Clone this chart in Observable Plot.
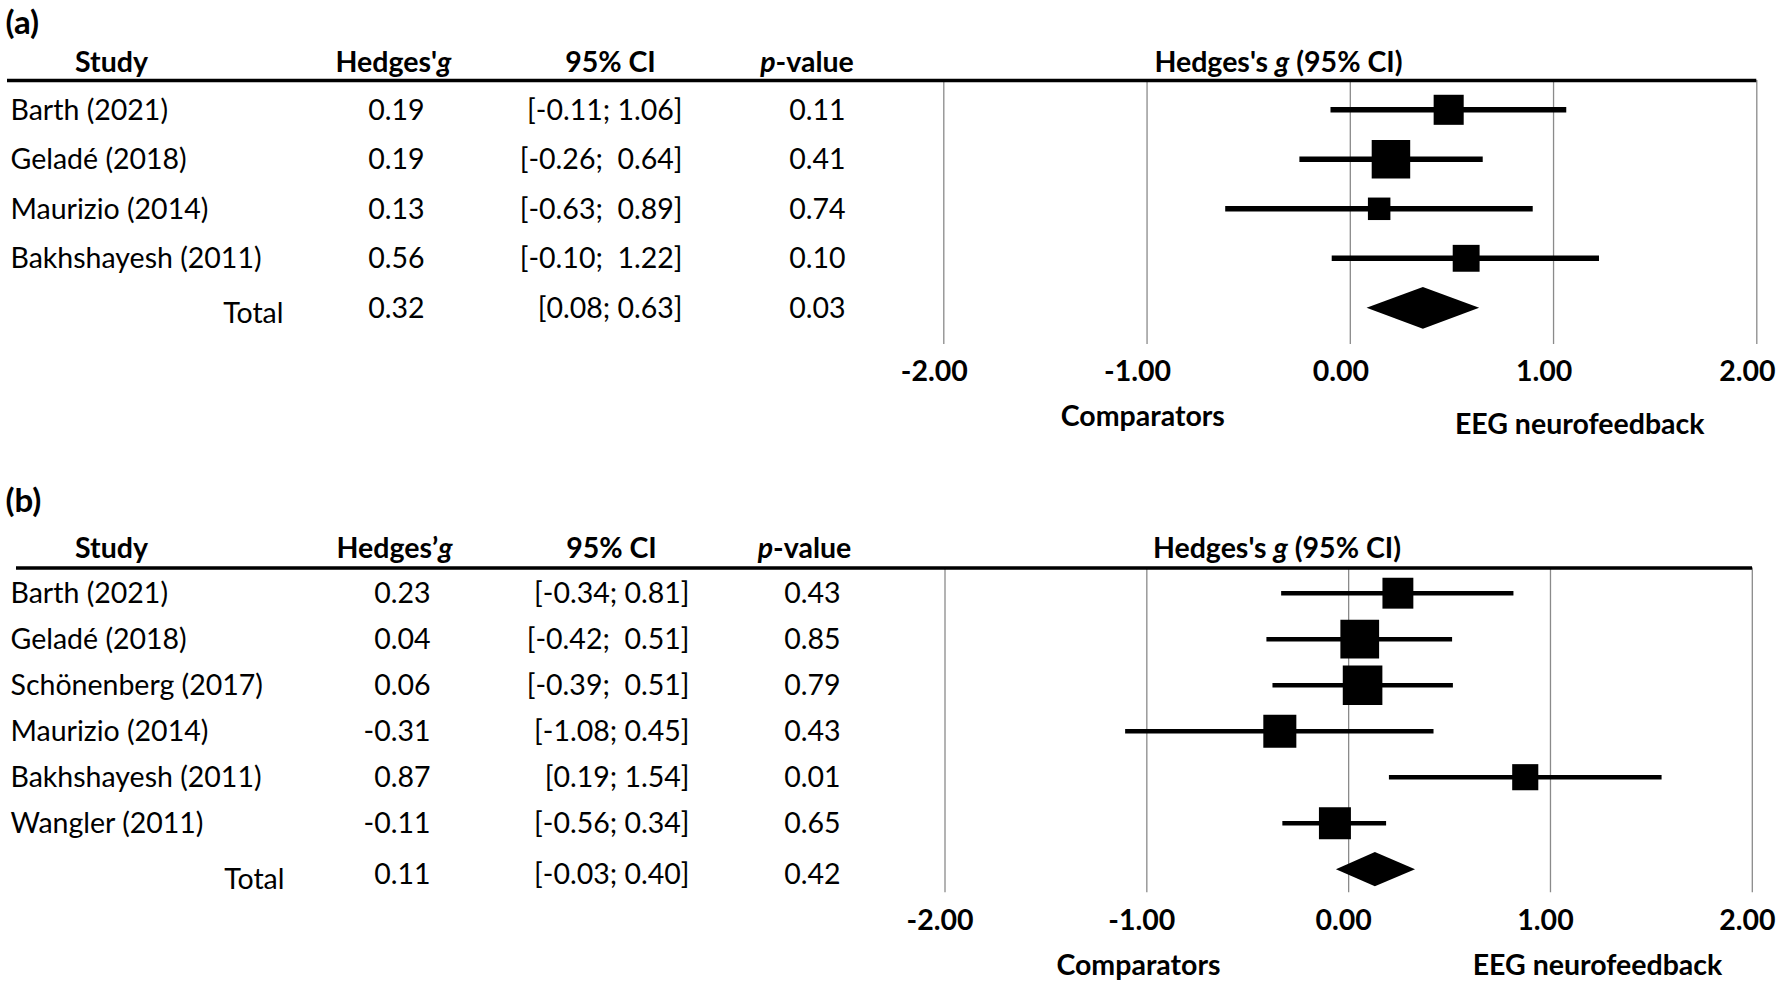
<!DOCTYPE html>
<html><head><meta charset="utf-8">
<script src="https://cdn.jsdelivr.net/npm/d3@7"></script>
<script src="https://cdn.jsdelivr.net/npm/@observablehq/plot@0.6"></script>
<style>
html,body{margin:0;padding:0;background:#fff;}
#chart svg{display:block;}
#chart svg text{white-space:pre;}
</style></head><body><div id="chart"></div>
<script>
// ---------- data: panel (a) ----------
const studiesA = ["Barth (2021)", "Geladé (2018)", "Maurizio (2014)", "Bakhshayesh (2011)"];
const hedgesGA = [0.19, 0.19, 0.13, 0.56];
const ciTextA = ["[-0.11; 1.06]", "[-0.26;  0.64]", "[-0.63;  0.89]", "[-0.10;  1.22]"];
const pValueA = [0.11, 0.41, 0.74, 0.10];
const totalGA = 0.32, totalCIA = "[0.08; 0.63]", totalPA = 0.03;
const markerA = [0.484, 0.200, 0.142, 0.570];
const lowerA = [-0.095, -0.248, -0.613, -0.089];
const upperA = [1.065, 0.654, 0.900, 1.226];
const weightA = [25, 41, 14, 20];
const diamondA = [0.080, 0.357, 0.634];

// ---------- data: panel (b) ----------
const studiesB = ["Barth (2021)", "Geladé (2018)", "Schönenberg (2017)", "Maurizio (2014)", "Bakhshayesh (2011)", "Wangler (2011)"];
const hedgesGB = [0.23, 0.04, 0.06, -0.31, 0.87, -0.11];
const ciTextB = ["[-0.34; 0.81]", "[-0.42;  0.51]", "[-0.39;  0.51]", "[-1.08; 0.45]", "[0.19; 1.54]", "[-0.56; 0.34]"];
const pValueB = [0.43, 0.85, 0.79, 0.43, 0.01, 0.65];
const totalGB = 0.11, totalCIB = "[-0.03; 0.40]", totalPB = 0.42;
const markerB = [0.244, 0.055, 0.069, -0.341, 0.875, -0.068];
const lowerB = [-0.332, -0.405, -0.375, -1.105, 0.202, -0.326];
const upperB = [0.819, 0.515, 0.519, 0.423, 1.553, 0.188];
const weightB = [14, 22, 23, 16, 10, 15];
const diamondB = [-0.063, 0.130, 0.329];

// ---------- labels ----------
const headersA = ["Study", "Hedges'*g*", "95% CI", "*p*-value"];
const headersB = ["Study", "Hedges\u2019*g*", "95% CI", "*p*-value"];
const forestHeader = "Hedges's *g* (95% CI)";
const totalLabel = "Total";
const xTicks = [-2, -1, 0, 1, 2];
const leftLabel = "Comparators";
const rightLabel = "EEG neurofeedback";

const FONT = 28.5;

function panel(o, L) {
  const n = o.studies.length;
  const rows = o.studies.map((s, i) => ({i, study: s, g: o.g[i], ci: o.ci[i], p: o.p[i],
    est: o.est[i], lo: o.lo[i], hi: o.hi[i], w: o.w[i]}));
  const total = {i: n, g: o.totalG, ci: o.totalCI, p: o.totalP};
  const yDomain = [(L.frameTop - L.row0) / L.step, (L.frameBottom - L.row0) / L.step];
  const dm = o.diamond;
  const diamond = [[dm[0], n], [dm[1], n - L.dh], [dm[2], n], [dm[1], n + L.dh], [dm[0], n]];
  const left = L.left;
  const colText = (key, xPos, fmt, dyRow, dyTot) => [
    Plot.text(rows, {y: "i", text: d => fmt(d[key]), frameAnchor: "left", textAnchor: "end", dx: xPos - left, dy: dyRow}),
    Plot.text([total], {y: "i", text: d => fmt(d[key]), frameAnchor: "left", textAnchor: "end", dx: xPos - left, dy: dyTot})
  ];
  const headerMarks = o.headers.map((h, k) => Plot.text([h], {text: d => d, frameAnchor: "top-left", lineAnchor: "bottom",
    textAnchor: "middle", dx: L.headerX[k] - left, dy: L.headerBase - L.frameTop, fontWeight: "bold"}));
  return Plot.plot({
    width: 1777, height: L.height,
    marginTop: L.frameTop, marginBottom: L.height - L.frameBottom,
    marginLeft: left, marginRight: 1777 - L.right,
    x: {domain: [-2, 2], range: [L.x0, L.x1]},
    y: {domain: yDomain, range: [L.frameTop, L.frameBottom], axis: null},
    r: {type: "sqrt", domain: [0, d3.max(o.w)], range: [0, L.maxSide / Math.sqrt(Math.PI)]},
    style: {fontFamily: "Lato, 'Open Sans', sans-serif", fontSize: FONT + "px", color: "#000", background: "#fff", overflow: "visible"},
    marks: [
      Plot.ruleX(xTicks, {x: d => d, stroke: "#8a8a8a", strokeWidth: 1.3}),
      Plot.ruleY([yDomain[0]], {stroke: "#000", strokeWidth: 3.5}),
      Plot.ruleY(rows, {y: "i", x1: "lo", x2: "hi", stroke: "#000", strokeWidth: L.ciWidth}),
      Plot.dot(rows, {x: "est", y: "i", r: "w", symbol: "square", fill: "#000", stroke: "none"}),
      Plot.line(diamond, {x: d => d[0], y: d => d[1], fill: "#000", stroke: "none"}),
      Plot.text(rows, {y: "i", text: "study", frameAnchor: "left", textAnchor: "start", dx: L.studyX - left, dy: 1}),
      Plot.text([total], {y: "i", text: () => totalLabel, frameAnchor: "left", textAnchor: "end", dx: L.totalX - left, dy: L.totDy + 5}),
      ...colText("g", L.gX, v => v.toFixed(2), 1, L.totDy),
      ...colText("ci", L.ciX, v => v, 1, L.totDy),
      ...colText("p", L.pX, v => v.toFixed(2), 1, L.totDy),
      ...headerMarks,
      Plot.text([forestHeader], {text: d => d, frameAnchor: "top-left", lineAnchor: "bottom", textAnchor: "middle",
        dx: L.forestHeaderX - left, dy: L.headerBase - L.frameTop, fontWeight: "bold"}),
      Plot.axisX({ticks: xTicks, tickSize: 0, tickPadding: L.tickBase - L.frameBottom - 0.71 * FONT,
        tickFormat: d => d.toFixed(2), fontWeight: "bold", dx: L.tickDx, label: null}),
      Plot.text([leftLabel], {text: d => d, frameAnchor: "bottom-left", lineAnchor: "bottom", textAnchor: "middle",
        dx: L.compX - left, dy: L.compBase - L.frameBottom, fontWeight: "bold"}),
      Plot.text([rightLabel], {text: d => d, frameAnchor: "bottom-left", lineAnchor: "bottom", textAnchor: "middle",
        dx: L.eegX - left, dy: L.eegBase - L.frameBottom, fontWeight: "bold"}),
      Plot.text([o.label], {text: d => d, frameAnchor: "top-left", lineAnchor: "bottom", textAnchor: "start",
        dx: L.labelX - left, dy: L.labelBase - L.frameTop, fontWeight: "bold", fontSize: 33})
    ]
  });
}

function italicize(svg) {
  svg.querySelectorAll("text").forEach(t => {
    const s = t.textContent;
    if (!s.includes("*") || t.children.length) return;
    const parts = s.split("*");
    t.textContent = "";
    parts.forEach((p, k) => {
      if (!p) return;
      const ts = document.createElementNS("http://www.w3.org/2000/svg", "tspan");
      if (k % 2) ts.setAttribute("font-style", "italic");
      ts.textContent = p;
      t.appendChild(ts);
    });
  });
}

const chartA = panel({
  label: "(a)", studies: studiesA, g: hedgesGA, ci: ciTextA, p: pValueA,
  totalG: totalGA, totalCI: totalCIA, totalP: totalPA,
  est: markerA, lo: lowerA, hi: upperA, w: weightA, diamond: diamondA, headers: headersA
}, {
  height: 460, frameTop: 80, frameBottom: 344, left: 7, right: 1756.3, x0: 943.3, x1: 1756.3,
  row0: 109.3, step: 49.5, dh: 0.421, maxSide: 38.5, ciWidth: 5.5,
  studyX: 10, totalX: 283, gX: 424, ciX: 682, pX: 845, totDy: 1,
  headerX: [111, 393, 610, 806.5], headerBase: 71.5, forestHeaderX: 1278,
  tickDx: -9.5, tickBase: 380.7, compX: 1142.3, compBase: 425.7, eegX: 1579.2, eegBase: 433.3,
  labelX: 5, labelBase: 33
});

const chartB = panel({
  label: "(b)", studies: studiesB, g: hedgesGB, ci: ciTextB, p: pValueB,
  totalG: totalGB, totalCI: totalCIB, totalP: totalPB,
  est: markerB, lo: lowerB, hi: upperB, w: weightB, diamond: diamondB, headers: headersB
}, {
  height: 524, frameTop: 107.5, frameBottom: 432.3, left: 16, right: 1752, x0: 944.5, x1: 1751.8,
  row0: 132.7, step: 46, dh: 0.373, maxSide: 39.6, ciWidth: 4.5,
  studyX: 10, totalX: 284, gX: 430, ciX: 689, pX: 840, totDy: 6,
  headerX: [111, 394, 611, 804], headerBase: 97, forestHeaderX: 1276.5,
  tickDx: -5, tickBase: 469, compX: 1138, compBase: 514, eegX: 1597, eegBase: 514,
  labelX: 5, labelBase: 51
});

const root = document.getElementById("chart");
root.appendChild(chartA);
root.appendChild(chartB);
italicize(chartA);
italicize(chartB);
</script></body></html>
